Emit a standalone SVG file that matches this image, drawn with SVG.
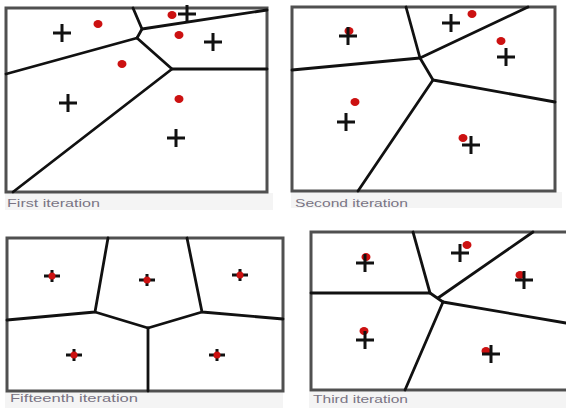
<svg xmlns="http://www.w3.org/2000/svg" width="566" height="408" viewBox="0 0 566 408">
  <defs>
    <style>
      .frame { fill: #ffffff; stroke: #505050; stroke-width: 3; }
      .edge { fill: none; stroke: #111111; stroke-width: 2.8; stroke-linecap: round; stroke-linejoin: round; }
      .band { fill: #f4f4f4; }
      .cap { font-family: "Liberation Sans", Arial, sans-serif; font-size: 11px; fill: #7a7484; }
      .seed { fill: #cc1111; }
      .mark { stroke: #111111; stroke-width: 3; }
    </style>
    <!-- cluster centre markers -->
    <path id="plus" d="M-9 0H9M0 -9V9" class="mark"/>
    <path id="plus-small" d="M-8 0H8M0 -6V6" class="mark"/>
  </defs>
  <rect width="566" height="408" fill="#ffffff"/>

  <!-- First iteration -->
  <g id="panel-first">
    <rect class="band" x="5" y="193" width="268" height="17"/>
    <rect class="frame" x="6" y="8" width="261" height="184"/>
    <g class="edge">
      <path d="M133 8L142 29L137 38"/>
      <path d="M142 29L267 10"/>
      <path d="M137 38L6 74"/>
      <path d="M137 38L172 69L267 69"/>
      <path d="M172 69L13 192"/>
    </g>
    <g class="seed">
      <ellipse cx="98" cy="24" rx="4.5" ry="4"/>
      <ellipse cx="172" cy="15" rx="4.5" ry="4"/>
      <ellipse cx="179" cy="35" rx="4.5" ry="4"/>
      <ellipse cx="122" cy="64" rx="4.5" ry="4"/>
      <ellipse cx="179" cy="99" rx="4.5" ry="4"/>
    </g>
    <use href="#plus" x="62" y="33"/>
    <use href="#plus" x="187" y="14"/>
    <use href="#plus" x="213" y="42"/>
    <use href="#plus" x="68" y="103"/>
    <use href="#plus" x="176" y="138"/>
    <text class="cap" x="7" y="207" textLength="93" lengthAdjust="spacingAndGlyphs">First iteration</text>
  </g>

  <!-- Second iteration -->
  <g id="panel-second">
    <rect class="band" x="291" y="192" width="271" height="16"/>
    <rect class="frame" x="292" y="7" width="263" height="184"/>
    <g class="edge">
      <path d="M406 7L420 58L528 7"/>
      <path d="M420 58L292 70"/>
      <path d="M420 58L433 80L555 102"/>
      <path d="M433 80L358 191"/>
    </g>
    <g class="seed">
      <ellipse cx="349" cy="31" rx="4.5" ry="4"/>
      <ellipse cx="472" cy="14" rx="4.5" ry="4"/>
      <ellipse cx="501" cy="41" rx="4.5" ry="4"/>
      <ellipse cx="355" cy="102" rx="4.5" ry="4"/>
      <ellipse cx="463" cy="138" rx="4.5" ry="4"/>
    </g>
    <use href="#plus" x="348" y="36"/>
    <use href="#plus" x="451" y="23"/>
    <use href="#plus" x="506" y="57"/>
    <use href="#plus" x="346" y="122"/>
    <use href="#plus" x="471" y="145"/>
    <text class="cap" x="295" y="207" textLength="113" lengthAdjust="spacingAndGlyphs">Second iteration</text>
  </g>

  <!-- Fifteenth iteration -->
  <g id="panel-fifteenth">
    <rect class="band" x="5" y="392" width="278" height="16"/>
    <rect class="frame" x="7" y="238" width="276" height="153"/>
    <g class="edge">
      <path d="M108 238L95 312L7 320"/>
      <path d="M95 312L148 328L202 312"/>
      <path d="M187 238L202 312L283 319"/>
      <path d="M148 328V391"/>
    </g>
    <use href="#plus-small" x="52" y="276"/>
    <use href="#plus-small" x="147" y="280"/>
    <use href="#plus-small" x="240" y="275"/>
    <use href="#plus-small" x="74" y="355"/>
    <use href="#plus-small" x="217" y="355"/>
    <g class="seed">
      <circle cx="52" cy="276" r="3.5"/>
      <circle cx="147" cy="280" r="3.5"/>
      <circle cx="240" cy="275" r="3.5"/>
      <circle cx="74" cy="355" r="3.5"/>
      <circle cx="217" cy="355" r="3.5"/>
    </g>
    <text class="cap" x="10" y="402" textLength="128" lengthAdjust="spacingAndGlyphs">Fifteenth iteration</text>
  </g>

  <!-- Third iteration -->
  <g id="panel-third">
    <rect class="band" x="309" y="392" width="257" height="16"/>
    <rect class="frame" x="311" y="232" width="258" height="158"/>
    <g class="edge">
      <path d="M413 232L430 293L311 293"/>
      <path d="M430 293L443 302"/>
      <path d="M438 298L533 232"/>
      <path d="M443 302L566 323"/>
      <path d="M443 302L405 390"/>
    </g>
    <g class="seed">
      <ellipse cx="366" cy="257" rx="4.5" ry="4"/>
      <ellipse cx="467" cy="245" rx="4.5" ry="4"/>
      <ellipse cx="520" cy="275" rx="4.5" ry="4"/>
      <ellipse cx="364" cy="331" rx="4.5" ry="4"/>
      <ellipse cx="486" cy="351" rx="4.5" ry="4"/>
    </g>
    <use href="#plus" x="365" y="263"/>
    <use href="#plus" x="460" y="253"/>
    <use href="#plus" x="524" y="280"/>
    <use href="#plus" x="365" y="340"/>
    <use href="#plus" x="491" y="354"/>
    <text class="cap" x="313" y="403" textLength="95" lengthAdjust="spacingAndGlyphs">Third iteration</text>
  </g>
</svg>
